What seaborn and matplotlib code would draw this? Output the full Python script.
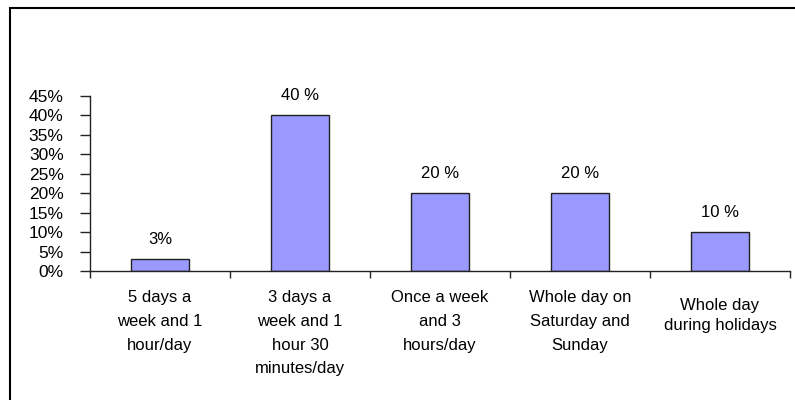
import matplotlib
matplotlib.use("Agg")
import matplotlib.pyplot as plt
from matplotlib.patches import Rectangle
from matplotlib.ticker import FixedLocator, PercentFormatter
import seaborn as sns
import pandas as pd

categories = [
    "5 days a\nweek and 1\nhour/day",
    "3 days a\nweek and 1\nhour 30\nminutes/day",
    "Once a week\nand 3\nhours/day",
    "Whole day on\nSaturday and\nSunday",
    "Whole day\nduring holidays",
]
values = [3, 40, 20, 20, 10]
value_labels = ["3%", "40 %", "20 %", "20 %", "10 %"]

sns.set_theme(style="white")
plt.rcParams["font.family"] = ["Liberation Sans", "DejaVu Sans"]

df = pd.DataFrame({"category": categories, "value": values})

fig = plt.figure(figsize=(7.95, 4.0), dpi=100)
ax = fig.add_axes([90 / 795, 1 - 271 / 400, 700 / 795, 175 / 400])

sns.barplot(data=df, x="category", y="value", order=categories, color="#9999FF",
            saturation=1, width=0.41, edgecolor="#222222", linewidth=1.0, ax=ax)

ax.set_xlim(-0.5, len(categories) - 0.5)
ax.set_ylim(0, 45)
ax.yaxis.set_major_locator(FixedLocator(range(0, 46, 5)))
ax.yaxis.set_major_formatter(PercentFormatter(decimals=0))
ax.set_xlabel("")
ax.set_ylabel("")

# category separators as x ticks
ax.set_xticks([i - 0.5 for i in range(len(categories) + 1)], minor=True)
ax.tick_params(axis="x", which="major", length=0, pad=14)
ax.tick_params(axis="x", which="minor", length=5, width=1, color="#222222", bottom=True, direction="out")
ax.tick_params(axis="y", length=7, width=1, color="#222222", left=True, direction="out",
               labelsize=12.5, pad=12, labelcolor="black")
for lbl in ax.get_xticklabels():
    lbl.set_fontsize(12)
    lbl.set_linespacing(1.72)
    lbl.set_verticalalignment("top")
    lbl.set_color("black")
ax.get_xticklabels()[-1].set_linespacing(1.39)
ax.get_xticklabels()[-1].set_y(-0.045)

for side in ("top", "right"):
    ax.spines[side].set_visible(False)
for side in ("left", "bottom"):
    ax.spines[side].set_color("#222222")
    ax.spines[side].set_linewidth(1.0)

for i, (v, t) in enumerate(zip(values, value_labels)):
    ax.annotate(t, (i, v), xytext=(0, 14), textcoords="offset points",
                ha="center", va="center", fontsize=12, color="black")

# outer frame
fig.patches.append(Rectangle((10 / 795, -0.1), 1.2, 1 - 8 / 400 + 0.1,
                             transform=fig.transFigure, fill=False,
                             edgecolor="black", linewidth=1.5))

fig.savefig("out.png", dpi=100)
